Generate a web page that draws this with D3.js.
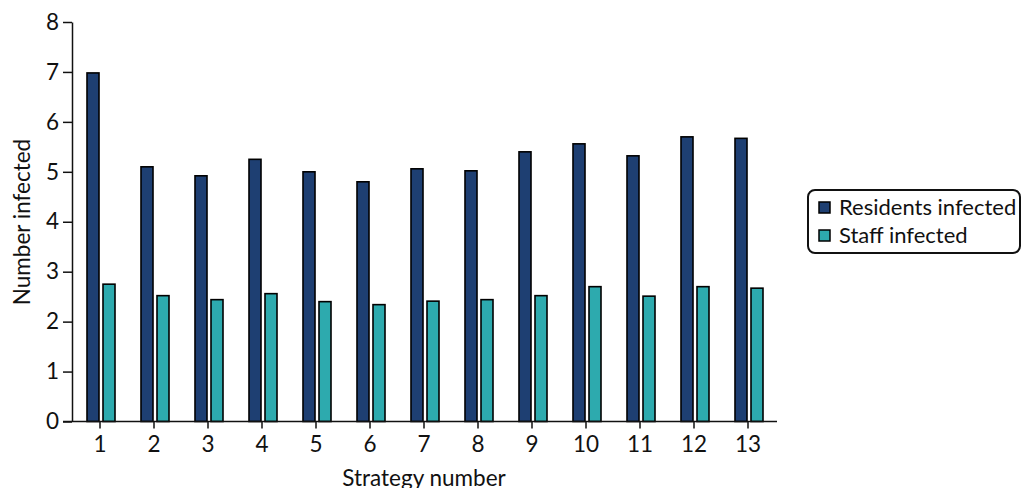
<!DOCTYPE html>
<html>
<head>
<meta charset="utf-8">
<script src="https://cdn.jsdelivr.net/npm/d3@7"></script>
<style>
  html, body { margin: 0; padding: 0; background: #fff; }
  svg { display: block; font-family: Lato, "Open Sans", sans-serif; }
</style>
</head>
<body>
<svg id="chart" width="1022" height="488"></svg>
<script>
const strategies = [1, 2, 3, 4, 5, 6, 7, 8, 9, 10, 11, 12, 13];
const residentsInfected = [6.98, 5.10, 4.92, 5.25, 5.00, 4.80, 5.06, 5.02, 5.40, 5.56, 5.32, 5.70, 5.67];
const staffInfected = [2.75, 2.52, 2.44, 2.56, 2.40, 2.34, 2.41, 2.44, 2.52, 2.70, 2.51, 2.70, 2.67];
const seriesNames = ["Residents infected", "Staff infected"];
const seriesColors = ["#1e3f72", "#2daaae"];
const yTicks = [0, 1, 2, 3, 4, 5, 6, 7, 8];

const FS = 22.5;
const svg = d3.select("#chart");
const x = d3.scaleBand().domain(strategies).range([73, 775]).paddingInner(0).paddingOuter(0);
const xSub = d3.scaleBand().domain([0, 1]).range([-13, 15]).paddingInner(0.25).paddingOuter(0);
const y = d3.scaleLinear().domain([0, 8]).range([421.5, 22]);

const data = strategies.map((s, i) => ({ s, vals: [residentsInfected[i], staffInfected[i]] }));

// bars
const groups = svg.append("g").selectAll("g").data(data).join("g")
  .attr("transform", d => `translate(${x(d.s) + x.bandwidth() / 2},0)`);
groups.selectAll("rect").data(d => d.vals.map((v, k) => ({ v, k }))).join("rect")
  .attr("x", d => xSub(d.k))
  .attr("width", xSub.bandwidth())
  .attr("y", d => y(d.v))
  .attr("height", d => y(0) - y(d.v))
  .attr("fill", d => seriesColors[d.k])
  .attr("stroke", "#000")
  .attr("stroke-width", 1.6);

// y axis
const yAxis = svg.append("g").attr("transform", "translate(72,0)")
  .call(d3.axisLeft(y).tickValues(yTicks).tickFormat(d3.format("d")).tickSize(9).tickPadding(4).tickSizeOuter(0));
yAxis.selectAll("text").attr("font-size", FS).attr("font-family", "Lato").attr("fill", "#111");
yAxis.selectAll("line").attr("stroke", "#111").attr("stroke-width", 1.5);
yAxis.select(".domain").attr("stroke", "#111").attr("stroke-width", 1.5);

// x axis
const xAxis = svg.append("g").attr("transform", `translate(0,${y(0)})`)
  .call(d3.axisBottom(x).tickSize(7).tickPadding(8).tickSizeOuter(0));
xAxis.selectAll("text").attr("font-size", FS).attr("font-family", "Lato").attr("fill", "#111");
xAxis.selectAll("line").attr("stroke", "#111").attr("stroke-width", 1.5);
xAxis.select(".domain").attr("stroke", "#111").attr("stroke-width", 1.5)
  .attr("d", "M63,0H777");

// axis titles
svg.append("text").attr("x", 424).attr("y", 486).attr("text-anchor", "middle")
  .attr("font-size", FS).attr("font-family", "Lato").attr("fill", "#111").text("Strategy number");
svg.append("text").attr("transform", "translate(30,222) rotate(-90)").attr("text-anchor", "middle")
  .attr("font-size", FS).attr("font-family", "Lato").attr("fill", "#111").text("Number infected");

// legend
const lg = svg.append("g");
lg.append("rect").attr("x", 808).attr("y", 190).attr("width", 212).attr("height", 63)
  .attr("rx", 7).attr("fill", "#fff").attr("stroke", "#111").attr("stroke-width", 2);
const items = lg.selectAll("g.item").data(seriesNames).join("g").attr("class", "item")
  .attr("transform", (d, i) => `translate(819,${208 + i * 28})`);
items.append("rect").attr("x", 0).attr("y", -6).attr("width", 11).attr("height", 11)
  .attr("fill", (d, i) => seriesColors[i]).attr("stroke", "#000").attr("stroke-width", 1.5);
items.append("text").attr("x", 20).attr("y", 7).attr("font-size", 22).attr("font-family", "Lato")
  .attr("fill", "#111").text(d => d);
</script>
</body>
</html>
